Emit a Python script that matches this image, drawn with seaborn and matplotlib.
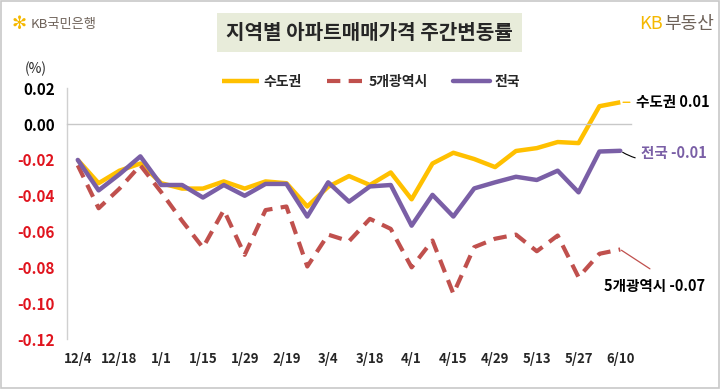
import numpy as np
import pandas as pd
import matplotlib
matplotlib.use("Agg")
import matplotlib.pyplot as plt
from matplotlib.patches import Rectangle
import seaborn as sns

# ---------------- data ----------------
dates = ["12/4", "12/11", "12/18", "12/25", "1/1", "1/8", "1/15", "1/22", "1/29",
         "2/5", "2/19", "2/26", "3/4", "3/11", "3/18", "3/25", "4/1", "4/8",
         "4/15", "4/22", "4/29", "5/6", "5/13", "5/20", "5/27", "6/3", "6/10"]
capital = [-0.020, -0.033, -0.026, -0.022, -0.033, -0.036, -0.036, -0.032, -0.036,
           -0.032, -0.033, -0.046, -0.035, -0.029, -0.034, -0.027, -0.042, -0.022,
           -0.016, -0.0195, -0.024, -0.015, -0.0134, -0.0100, -0.0106, 0.0100, 0.0122]
metro5 = [-0.023, -0.047, -0.036, -0.023, -0.038, -0.054, -0.069, -0.048, -0.073,
          -0.048, -0.046, -0.0795, -0.0617, -0.0654, -0.0529, -0.0585, -0.080, -0.065,
          -0.0947, -0.0687, -0.064, -0.0617, -0.071, -0.0622, -0.0855, -0.0724, -0.070]
national = [-0.020, -0.037, -0.028, -0.018, -0.034, -0.034, -0.041, -0.034, -0.040,
            -0.0334, -0.0334, -0.0516, -0.0325, -0.0433, -0.0348, -0.034, -0.0567, -0.0395,
            -0.0516, -0.0359, -0.0325, -0.0294, -0.0312, -0.026, -0.0381, -0.0153, -0.0149]
series_names = ["수도권", "5개광역시", "전국"]
end_labels = ["수도권 0.01", "5개광역시 -0.07", "전국 -0.01"]
yticks = [0.02, 0.00, -0.02, -0.04, -0.06, -0.08, -0.10, -0.12]
title = "지역별 아파트매매가격 주간변동률"

# ---------------- style ----------------
sns.set_theme(style="white")
plt.rcParams["font.family"] = ["Noto Sans CJK KR", "DejaVu Sans"]
plt.rcParams["axes.unicode_minus"] = False

c_yellow = "#FFC000"
c_red = "#C0504D"
c_purple = "#7A5FA6"

fig = plt.figure(figsize=(7.2, 3.89), dpi=100)
ax = fig.add_axes([0.0935, 0.1285, 0.7825, 0.6445])

x = np.arange(len(dates))
df = pd.DataFrame({"x": x, "capital": capital, "metro5": metro5, "national": national})

sns.lineplot(data=df, x="x", y="capital", ax=ax, color=c_yellow, lw=3.2,
             label=series_names[0], solid_capstyle="butt")
sns.lineplot(data=df, x="x", y="metro5", ax=ax, color=c_red, lw=3.0,
             label=series_names[1])
ax.lines[-1].set_dashes([3.2, 2.0])
sns.lineplot(data=df, x="x", y="national", ax=ax, color=c_purple, lw=3.2,
             label=series_names[2])

ax.set_xlim(-0.5, len(dates) - 0.5)
ax.set_ylim(-0.12, 0.02)
ax.set_xlabel("")
ax.set_ylabel("")

# spines
for s in ["top", "right"]:
    ax.spines[s].set_visible(False)
ax.spines["left"].set_color("#D0D0D0")
ax.spines["left"].set_linewidth(1.0)
ax.spines["bottom"].set_position(("data", 0))
ax.spines["bottom"].set_color("#C8C8C8")
ax.spines["bottom"].set_linewidth(1.0)

# category boundary ticks on zero line
ax.set_xticks(np.arange(len(dates) + 1) - 0.5)
ax.set_xticklabels([])
ax.tick_params(axis="x", direction="out", length=3, color="#C8C8C8", width=1)

# y ticks
ax.set_yticks(yticks)
ax.set_yticklabels([f"{v:.2f}" for v in yticks], fontsize=11, fontweight="bold")
ax.tick_params(axis="y", direction="out", length=3, color="#D0D0D0", width=1, pad=6)
for lab, v in zip(ax.get_yticklabels(), yticks):
    lab.set_color("black" if v >= 0 else "#E0141E")

# date labels at bottom
sec = ax.secondary_xaxis("bottom")
sec.set_xticks(x[::2])
sec.set_xticklabels(dates[::2], fontsize=9.5, fontweight="bold")
sec.tick_params(length=0, pad=9)
sec.spines["bottom"].set_visible(False)

ax.grid(False)

# legend
h, l = ax.get_legend_handles_labels()
ax.legend_.remove()
fig.legend(h, l, loc="center", bbox_to_anchor=(0.515, 0.79), ncol=3, frameon=False,
           prop={"weight": "bold", "size": 10}, handlelength=2.7, columnspacing=1.8,
           handletextpad=0.3)

# end annotations
ax.annotate(end_labels[0], xy=(x[-1], capital[-1]), xytext=(x[-1] + 0.75, capital[-1]),
            fontsize=10.5, fontweight="bold", color="black", va="center",
            arrowprops=dict(arrowstyle="-", color=c_yellow, lw=1))
ax.annotate(end_labels[2], xy=(x[-1], national[-1]), xytext=(x[-1] + 1.0, national[-1] - 0.001),
            fontsize=10.5, fontweight="bold", color=c_purple, va="center",
            arrowprops=dict(arrowstyle="-", color="black", lw=0.8,
                            connectionstyle="arc3,rad=-0.3"))
ax.annotate(end_labels[1], xy=(x[-1], metro5[-1]), xytext=(x[-1] - 0.8, -0.0905),
            fontsize=10.5, fontweight="bold", color="black", va="center", ha="left",
            arrowprops=dict(arrowstyle="-", color=c_red, lw=0.9, shrinkA=8, shrinkB=1,
                            relpos=(0.6, 1.0)))

# (%) unit
fig.text(0.034, 0.822, "(%)", fontsize=10, ha="left", va="center")

# title
fig.text(0.513, 0.917, title, fontsize=14.5, fontweight="bold", ha="center", va="center",
         bbox=dict(boxstyle="square,pad=0.45", facecolor="#E8ECDA", edgecolor="none"))

# logos
fig.text(0.016, 0.938, "✻", fontsize=13, color="#F5B800", ha="left", va="center",
         family="DejaVu Sans", fontweight="bold")
fig.text(0.042, 0.938, "KB국민은행", fontsize=9.5, color="#6E6259", ha="left", va="center")
fig.text(0.888, 0.938, "KB", fontsize=13, color="#F5B800", ha="left", va="center")
fig.text(0.922, 0.938, "부동산", fontsize=13, color="#6E6259", ha="left", va="center")

# frame
fig.patches.append(Rectangle((0.002, 0.003), 0.996, 0.994, transform=fig.transFigure,
                             fill=False, edgecolor="#C8C8C8", lw=1.2))

fig.savefig("out.png", dpi=100)
